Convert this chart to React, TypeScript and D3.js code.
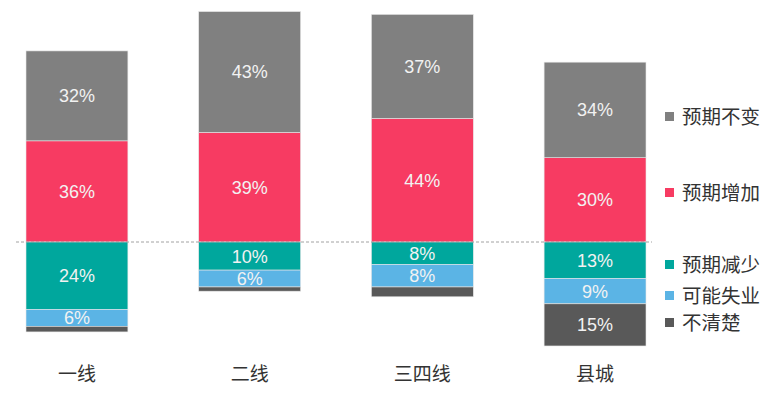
import React, { useEffect, useRef } from 'react';
import * as d3 from 'd3';

const categories = ['一线', '二线', '三四线', '县城'];
// positive side, stacked from baseline upwards
const increase = [36, 39, 44, 30];
const unchanged = [32, 43, 37, 34];
// negative side, stacked from baseline downwards
const decrease = [24, 10, 8, 13];
const jobLoss = [6, 6, 8, 9];
const unclear = [2, 1.5, 3.5, 15];

const seriesNames = ['预期不变', '预期增加', '预期减少', '可能失业', '不清楚'];
const seriesColors = ['#808080', '#f73b62', '#00a79d', '#5bb4e5', '#595959'];

const App: React.FC = () => {
    const ref = useRef<SVGSVGElement>(null);

    useEffect(() => {
        const width = 774;
        const height = 395;
        const font = '"Liberation Sans", Arial, "Noto Sans CJK SC", sans-serif';

        d3.select(ref.current).selectAll('*').remove();
        const svg = d3.select(ref.current).attr('width', width).attr('height', height);

        const x = d3.scaleBand().domain(categories).range([26, 646]).paddingInner(0.41).paddingOuter(0);
        const y = d3.scaleLinear().domain([-40, 85]).range([242 + 40 * 2.81, 242 - 85 * 2.81]);

        // build segments for each bar, positives go up and negatives go down
        type Seg = { s: number; c: number; v: number; y0: number; y1: number };
        const segs: Seg[] = [];
        categories.forEach((_, i) => {
            let top = 0;
            [[1, increase[i]], [0, unchanged[i]]].forEach(([s, v]) => {
                segs.push({ s, c: i, v, y0: top, y1: top + v });
                top += v;
            });
            let bottom = 0;
            [[2, decrease[i]], [3, jobLoss[i]], [4, unclear[i]]].forEach(([s, v]) => {
                segs.push({ s, c: i, v, y0: bottom, y1: bottom - v });
                bottom -= v;
            });
        });

        svg.selectAll('rect.seg')
            .data(segs)
            .enter()
            .append('rect')
            .attr('class', 'seg')
            .attr('x', (d) => x(categories[d.c]) ?? 0)
            .attr('width', x.bandwidth())
            .attr('y', (d) => Math.min(y(d.y0), y(d.y1)))
            .attr('height', (d) => Math.abs(y(d.y0) - y(d.y1)))
            .attr('fill', (d) => seriesColors[d.s])
            .attr('stroke', '#e6e6e6')
            .attr('stroke-width', 0.6);

        svg.selectAll('text.val')
            .data(segs.filter((d) => d.v >= 5))
            .enter()
            .append('text')
            .attr('class', 'val')
            .attr('x', (d) => (x(categories[d.c]) ?? 0) + x.bandwidth() / 2)
            .attr('y', (d) => (y(d.y0) + y(d.y1)) / 2)
            .attr('dy', '0.36em')
            .attr('text-anchor', 'middle')
            .style('font-family', font)
            .style('font-size', '18px')
            .attr('fill', '#f2f2f2')
            .text((d) => `${d.v}%`);

        // zero baseline
        svg.append('line')
            .attr('x1', 16)
            .attr('x2', 652)
            .attr('y1', y(0))
            .attr('y2', y(0))
            .attr('stroke', '#8c8c8c')
            .attr('stroke-width', 0.8)
            .attr('stroke-dasharray', '3,2');

        // category labels
        svg.selectAll('text.cat')
            .data(categories)
            .enter()
            .append('text')
            .attr('class', 'cat')
            .attr('x', (d) => (x(d) ?? 0) + x.bandwidth() / 2)
            .attr('y', 381)
            .attr('text-anchor', 'middle')
            .style('font-family', font)
            .style('font-size', '19px')
            .attr('fill', '#333333')
            .text((d) => d);

        // legend
        const legendY = [117, 193, 265, 296, 323];
        const legend = svg.selectAll('g.leg')
            .data(seriesNames)
            .enter()
            .append('g')
            .attr('class', 'leg')
            .attr('transform', (_, i) => `translate(665,${legendY[i]})`);
        legend.append('rect')
            .attr('x', 0)
            .attr('y', -5)
            .attr('width', 9)
            .attr('height', 9)
            .attr('fill', (_, i) => seriesColors[i]);
        legend.append('text')
            .attr('x', 17)
            .attr('y', 0)
            .attr('dy', '0.36em')
            .style('font-family', font)
            .style('font-size', '19.5px')
            .attr('fill', '#333333')
            .text((d) => d);
    }, []);

    return <svg ref={ref} style={{ position: 'absolute', left: 0, top: 0 }}></svg>;
};

export default App;
